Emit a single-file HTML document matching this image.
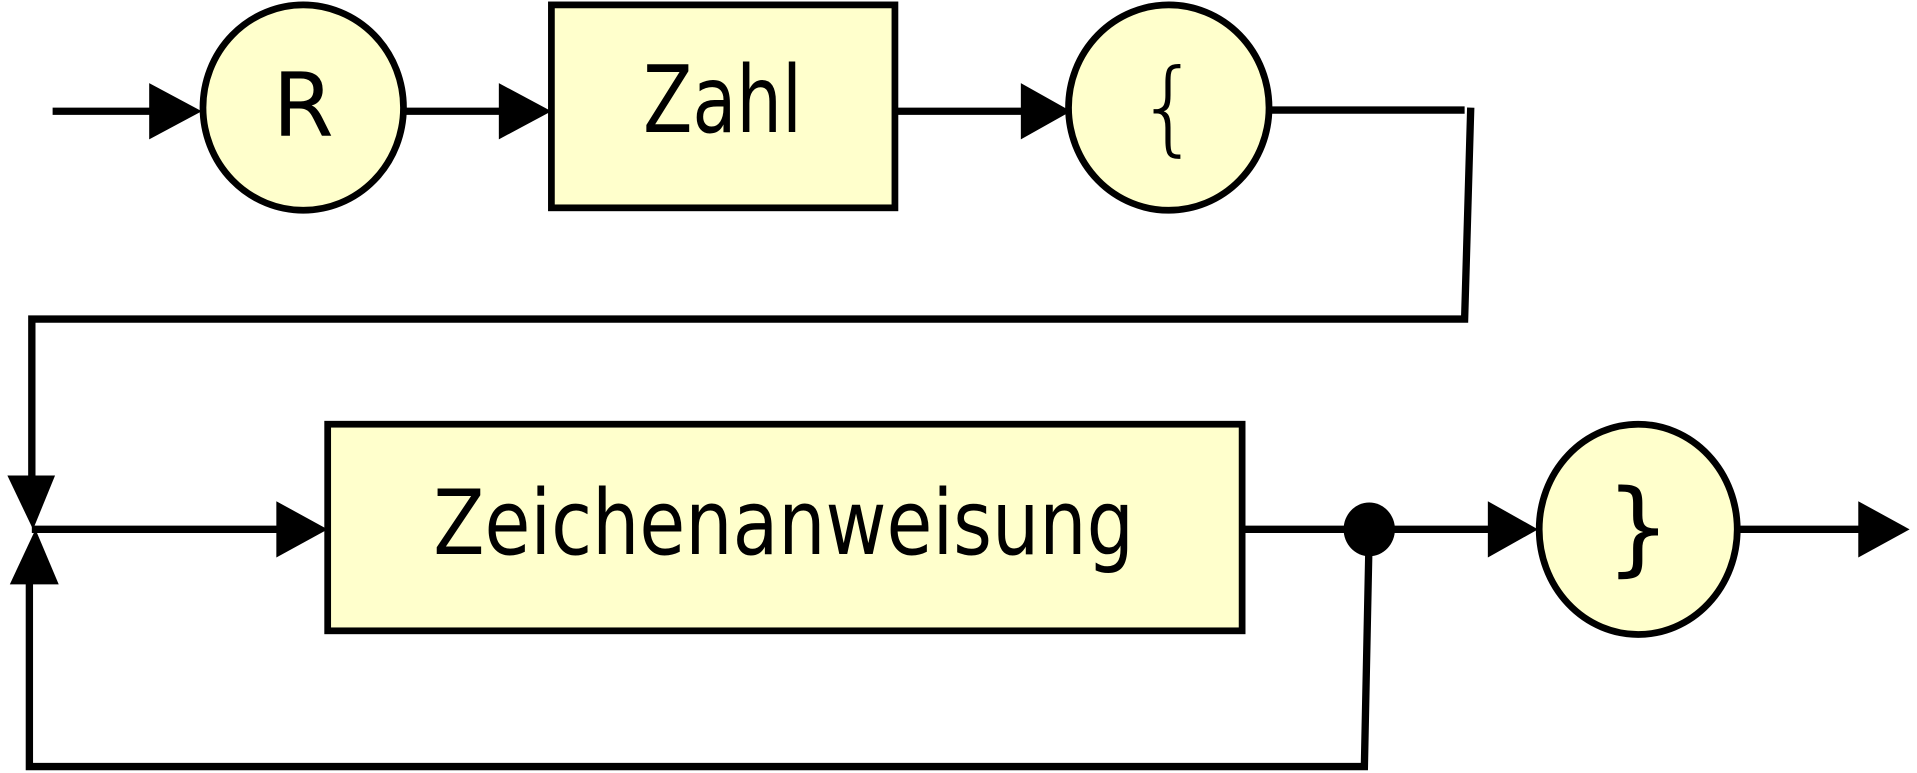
<!DOCTYPE html>
<html><head><meta charset="utf-8"><style>html,body{margin:0;padding:0;background:#fff;}svg{display:block}</style></head>
<body>
<svg width="1917" height="773" viewBox="0 0 1568 632.3" xmlns="http://www.w3.org/2000/svg">
<g stroke="#000" stroke-width="6" fill="none">
<line x1="43" y1="91" x2="125" y2="91"/>
<line x1="330" y1="91" x2="410" y2="91"/>
<line x1="732" y1="91" x2="838" y2="91"/>
<line x1="1039" y1="90" x2="1198" y2="90"/>
<polyline points="1203,88 1198,261 26,261 26,395"/>
<line x1="26" y1="433" x2="230" y2="433"/>
<line x1="1016" y1="433" x2="1220" y2="433"/>
<line x1="1421" y1="433" x2="1524" y2="433"/>
<polyline points="1120,433 1116,627 24,627 24,475"/>
</g>
<g fill="#000">
<polygon points="122,68 165,91 122,114"/>
<polygon points="408,68 451,91 408,114"/>
<polygon points="835,68 876,91 835,114"/>
<polygon points="226,410 268,433 226,456"/>
<polygon points="1217,410 1258,433 1217,456"/>
<polygon points="1520,410 1562,433 1520,456"/>
<polygon points="6,389 45,389 27,433"/>
<polygon points="8,478 48,478 29,433"/>
<ellipse cx="1120" cy="433" rx="21" ry="22"/>
</g>
<g stroke="#000" stroke-width="5.5" fill="#ffffcc">
<ellipse cx="248" cy="88" rx="82" ry="84"/>
<rect x="451" y="4" width="281" height="166"/>
<ellipse cx="956" cy="88" rx="82" ry="84"/>
<rect x="268" y="347" width="748" height="169"/>
<ellipse cx="1340" cy="433" rx="81" ry="86"/>
</g>
<g font-family="DejaVu Sans, Liberation Sans, sans-serif" fill="#000" text-anchor="middle">
<text x="248" y="111" font-size="72">R</text>
<text x="591" y="108" font-size="76" textLength="130" lengthAdjust="spacingAndGlyphs">Zahl</text>
<text x="956" y="116" font-size="84" font-weight="300">{</text>
<text x="641" y="453" font-size="74" textLength="573" lengthAdjust="spacingAndGlyphs">Zeichenanweisung</text>
<text x="1340" y="460" font-size="84">}</text>
</g>
</svg>
</body></html>
